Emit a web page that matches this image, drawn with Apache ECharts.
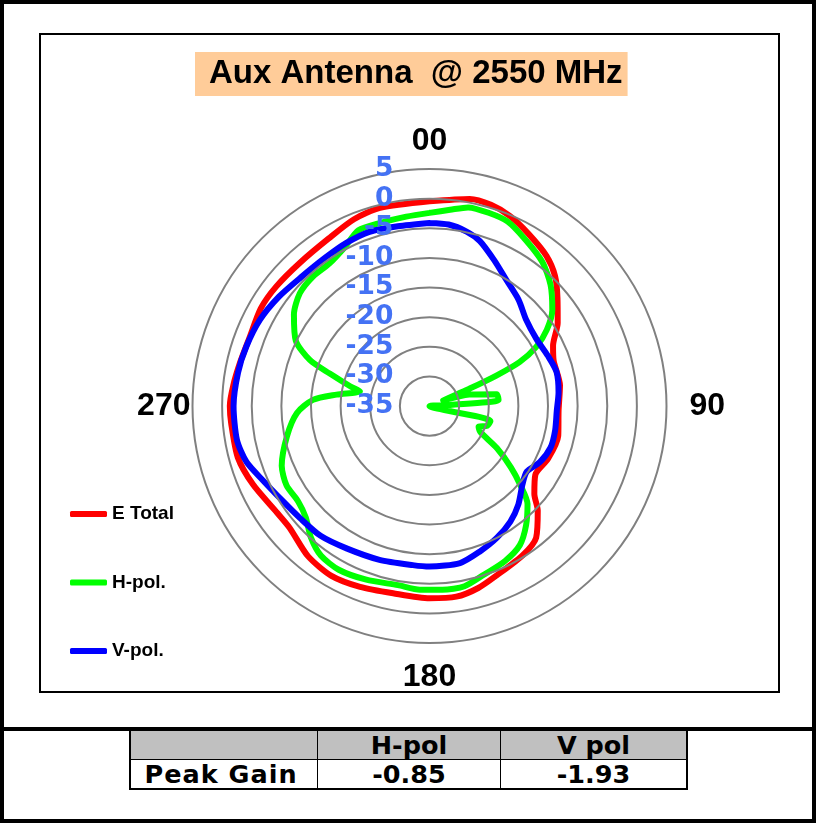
<!DOCTYPE html>
<html><head><meta charset="utf-8">
<script src="https://cdn.jsdelivr.net/npm/echarts@6/dist/echarts.min.js"></script>
<style>
html,body{margin:0;padding:0;background:#fff;}
#frame{position:absolute;left:0;top:0;width:816px;height:823px;box-sizing:border-box;border:4px solid #000;}
#sep{position:absolute;left:0;top:727px;width:816px;height:4px;background:#000;}
#box{position:absolute;left:39px;top:33px;width:741px;height:660px;box-sizing:border-box;border:2px solid #000;}
#chart{position:absolute;left:0;top:0;width:816px;height:727px;z-index:2;}
#tbl{position:absolute;left:129px;top:729px;border-collapse:collapse;font-family:'DejaVu Sans',sans-serif;font-weight:bold;font-size:25.5px;color:#000;border:2px solid #000;}
#tbl td{border:1.5px solid #000;height:28px;padding:0;text-align:center;line-height:28px;}
#tbl tr.h td{background:#C0C0C0;}
#tbl td.pg{letter-spacing:1px;padding-right:6px;}
</style></head>
<body>
<div id="frame"></div>
<div id="sep"></div>
<div id="box"></div>
<div id="chart"></div>
<table id="tbl">
<tr class="h"><td style="width:186px"></td><td style="width:182px">H-pol</td><td style="width:185px">V pol</td></tr>
<tr><td class="pg">Peak Gain</td><td>-0.85</td><td>-1.93</td></tr>
</table>
<script>
const titleText = 'Aux Antenna  @ 2550 MHz';
const seriesNames = ['E Total', 'H-pol.', 'V-pol.'];
const seriesColors = ['#FF0000', '#00FF00', '#0000FF'];
const radiusTicks = { min: -35, max: 5, step: 5 };
const angleTicks = { 0: '00', 90: '90', 180: '180', 270: '270' };

const eTotalAngles = [0, 11, 17, 23, 30, 38, 44, 50, 57, 64, 70, 81, 92, 103, 114, 123, 130, 134, 141, 148, 158, 165, 172, 180, 191, 201, 210, 219, 229, 235, 246, 255, 265, 270, 276, 283, 291, 300, 308, 318, 329, 338, 346, 360];
const eTotalValues = [-0.46, 0.6, 0.5, -0.2, -1.5, -2.9, -4.5, -6.8, -9.2, -11.8, -12.7, -12.7, -13.2, -12.7, -13.1, -13.7, -11.9, -9.6, -6.4, -5.3, -4.3, -3.2, -2.5, -2.55, -2.8, -2.3, -1.9, -2.4, -3.7, -3.6, -2.4, -1.5, -1.4, -1.3, -1.7, -2.2, -2.5, -2.1, -2.2, -2.4, -2.0, -1.0, -0.54, -0.46];

const hPolAngles = [0, 6, 11, 17, 23, 30, 38, 45, 52, 57, 61, 64, 65.5, 66.5, 68, 74, 80, 85, 87, 89, 104, 109, 113, 117, 122, 127, 131, 135, 141, 147, 154, 162, 169, 176, 183, 190, 200, 209, 216, 222, 228, 234, 241, 248, 258, 267, 273, 277, 282, 284, 288, 291, 296, 304, 311, 318, 325, 332, 338, 345, 353, 360];
const hPolValues = [-2.4, -1.7, -0.85, -0.9, -1.2, -2.6, -4.1, -6.1, -8.7, -11.4, -14.4, -18.1, -22.6, -27.5, -32.5, -28, -23.5, -23.3, -31.5, -35, -24.4, -24.7, -26, -25.4, -21.6, -17.8, -14.7, -11.6, -9.1, -7, -5.9, -5.1, -4, -3.9, -3.95, -4.3, -3.8, -3.4, -3.8, -5.1, -6.9, -7.6, -7.4, -8.1, -10.4, -12.6, -15.3, -19.2, -23, -21.2, -17.3, -13.4, -9.9, -7.4, -6, -5.6, -5.6, -4.6, -3, -3, -2.8, -2.4];

const vPolAngles = [0, 6, 12, 17, 24, 31, 40, 48, 58, 67, 75, 84, 92, 101, 109, 117, 124, 130, 138, 145, 153, 161, 169, 180, 186, 198, 210, 220, 229, 237, 246, 253, 260, 270, 280, 288, 297, 306, 315, 325, 333, 341, 350, 360];
const vPolValues = [-4.1, -4.2, -4.9, -5.9, -8.1, -10, -11.6, -13.1, -13.7, -13.3, -12.8, -13.1, -13.5, -13.4, -13.4, -14.1, -15.2, -14.5, -12.6, -11.2, -10, -9, -8, -7.9, -8, -7.7, -7.2, -6.4, -6.1, -5.5, -4.2, -2.7, -2.0, -1.93, -2.2, -2.5, -2.9, -3.6, -4.3, -4.4, -4.1, -3.9, -4.2, -4.1];

function pairs(angles, values) { return angles.map((a, i) => [values[i], a]); }
const allData = [pairs(eTotalAngles, eTotalValues), pairs(hPolAngles, hPolValues), pairs(vPolAngles, vPolValues)];

const chart = echarts.init(document.getElementById('chart'), null, { renderer: 'canvas' });
const angleFont = { fontFamily: 'Liberation Sans', fontWeight: 'bold', fontSize: 32, color: '#000' };
chart.setOption({
  backgroundColor: 'transparent',
  animation: false,
  title: {
    text: titleText,
    left: 195, top: 52,
    backgroundColor: '#FFCC99',
    padding: [5, 5, 5, 14],
    textStyle: { fontFamily: 'Liberation Sans', fontWeight: 'bold', fontSize: 33, color: '#000', lineHeight: 34 }
  },
  legend: {
    orient: 'vertical', left: 65, top: 499,
    itemWidth: 37, itemHeight: 6, itemGap: 48.5,
    icon: 'roundRect',
    data: seriesNames,
    textStyle: { fontFamily: 'Liberation Sans', fontWeight: 'bold', fontSize: 19, color: '#000', lineHeight: 20 }
  },
  polar: { center: [429.5, 406], radius: 237 },
  angleAxis: {
    type: 'value', min: 0, max: 360, interval: 90, startAngle: 90, clockwise: true,
    axisLine: { show: false }, axisTick: { show: false }, splitLine: { show: false },
    axisLabel: {
      margin: 2,
      formatter: v => v === 0 ? '{t|' + angleTicks[0] + '}' : v === 90 ? '{r|' + angleTicks[90] + '}' : v === 180 ? '{b|' + angleTicks[180] + '}' : v === 270 ? '{l|' + angleTicks[270] + '}' : '',
      rich: {
        t: Object.assign({ padding: [0, 0, 10, 0] }, angleFont),
        r: Object.assign({ padding: [0, 0, 0, 21] }, angleFont),
        b: Object.assign({ padding: [16, 0, 0, 0] }, angleFont),
        l: Object.assign({ padding: [0, 0, 0, 0] }, angleFont)
      }
    }
  },
  radiusAxis: {
    type: 'value', min: radiusTicks.min, max: radiusTicks.max, interval: radiusTicks.step, z: 10,
    axisLine: { show: false }, axisTick: { show: false },
    splitLine: { show: true, lineStyle: { color: '#808080', width: 2 } },
    axisLabel: { show: true, showMinLabel: true, showMaxLabel: true, margin: 36, color: '#4472F4', fontFamily: 'DejaVu Sans', fontWeight: 'bold', fontSize: 26.5 }
  },
  series: seriesNames.map((n, i) => ({
    name: n, type: 'line', coordinateSystem: 'polar', data: allData[i],
    showSymbol: false, symbol: 'none', smooth: 0.25,
    lineStyle: { color: seriesColors[i], width: 6, cap: 'round', join: 'round' },
    itemStyle: { color: seriesColors[i] }
  }))
});
</script>
</body></html>
